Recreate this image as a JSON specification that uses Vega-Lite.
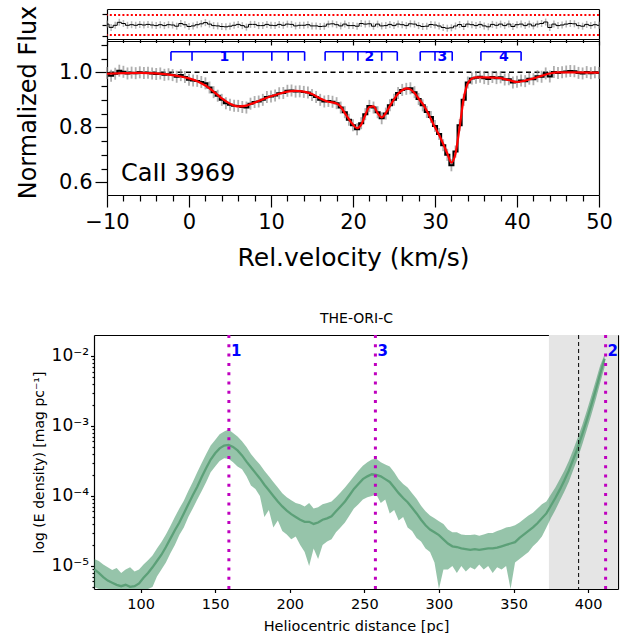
{
"$schema":"https://vega.github.io/schema/vega-lite/v6.json",
"padding":{"left":16,"top":5,"right":0,"bottom":0},
"config":{"font":"DejaVu Sans","view":{"stroke":null},
"axis":{"grid":false,"domainColor":"#000","tickColor":"#000","labelColor":"#000","titleColor":"#000","labelFont":"DejaVu Sans","titleFont":"DejaVu Sans","titleFontWeight":"normal","labelFlush":false,"labelOverlap":false,"domainWidth":1.2,"tickWidth":1.2},
"title":{"font":"DejaVu Sans","fontWeight":"normal","color":"#000"}},
"datasets":{
"spec":[
{"v":-10,"f":0.998,"r":0.09},{"v":-9.5,"f":0.988,"r":-0.24},{"v":-9,"f":0.995,"r":-0.03},{"v":-8.5,"f":1.006,"r":0.27},{"v":-8,"f":1.002,"r":0.15},{"v":-7.5,"f":0.996,"r":-0.03},{"v":-7,"f":0.999,"r":0.03},{"v":-6.5,"f":0.997,"r":-0.03},{"v":-6,"f":1.0,"r":0.06},{"v":-5.5,"f":0.998,"r":0},{"v":-5,"f":0.999,"r":0.06},{"v":-4.5,"f":0.996,"r":0},{"v":-4,"f":0.994,"r":-0.06},{"v":-3.5,"f":0.996,"r":0.03},{"v":-3,"f":0.991,"r":-0.06},{"v":-2.5,"f":0.993,"r":0.03},{"v":-2,"f":0.99,"r":0},{"v":-1.5,"f":0.984,"r":-0.12},{"v":-1,"f":0.99,"r":0.15},{"v":-0.5,"f":0.983,"r":0.03},
{"v":0,"f":0.973,"r":-0.15},{"v":0.5,"f":0.97,"r":-0.09},{"v":1,"f":0.969,"r":0.03},{"v":1.5,"f":0.965,"r":0.12},{"v":2,"f":0.96,"r":0.24},{"v":2.5,"f":0.945,"r":0.09},{"v":3,"f":0.928,"r":-0.06},{"v":3.5,"f":0.915,"r":-0.09},{"v":4,"f":0.9,"r":-0.15},{"v":4.5,"f":0.888,"r":-0.18},{"v":5,"f":0.882,"r":-0.12},{"v":5.5,"f":0.879,"r":-0.03},{"v":6,"f":0.878,"r":0.06},{"v":6.5,"f":0.874,"r":-0.06},{"v":7,"f":0.872,"r":-0.21},{"v":7.5,"f":0.886,"r":0.06},{"v":8,"f":0.892,"r":0.06},{"v":8.5,"f":0.894,"r":-0.06},{"v":9,"f":0.9,"r":-0.06},{"v":9.5,"f":0.91,"r":0.06},
{"v":10,"f":0.912,"r":-0.03},{"v":10.5,"f":0.916,"r":-0.06},{"v":11,"f":0.924,"r":0.06},{"v":11.5,"f":0.925,"r":-0.03},{"v":12,"f":0.933,"r":0.09},{"v":12.5,"f":0.934,"r":0.06},{"v":13,"f":0.93,"r":-0.09},{"v":13.5,"f":0.931,"r":-0.03},{"v":14,"f":0.929,"r":-0.03},{"v":14.5,"f":0.927,"r":0.03},{"v":15,"f":0.918,"r":-0.09},{"v":15.5,"f":0.91,"r":-0.09},{"v":16,"f":0.9,"r":-0.15},{"v":16.5,"f":0.894,"r":-0.12},{"v":17,"f":0.896,"r":0.09},{"v":17.5,"f":0.893,"r":0.12},{"v":18,"f":0.888,"r":0.03},{"v":18.5,"f":0.872,"r":-0.09},{"v":19,"f":0.855,"r":0.09},{"v":19.5,"f":0.828,"r":-0.06},
{"v":20,"f":0.808,"r":-0.06},{"v":20.5,"f":0.793,"r":-0.12},{"v":21,"f":0.815,"r":0.15},{"v":21.5,"f":0.848,"r":0.09},{"v":22,"f":0.878,"r":0.12},{"v":22.5,"f":0.872,"r":-0.12},{"v":23,"f":0.855,"r":0.09},{"v":23.5,"f":0.833,"r":-0.09},{"v":24,"f":0.85,"r":-0.06},{"v":24.5,"f":0.88,"r":0.06},{"v":25,"f":0.9,"r":-0.06},{"v":25.5,"f":0.925,"r":0.09},{"v":26,"f":0.936,"r":0.03},{"v":26.5,"f":0.94,"r":-0.06},{"v":27,"f":0.942,"r":0.12},{"v":27.5,"f":0.928,"r":0.09},{"v":28,"f":0.903,"r":-0.06},{"v":28.5,"f":0.88,"r":-0.15},{"v":29,"f":0.856,"r":-0.12},{"v":29.5,"f":0.838,"r":0.05},
{"v":30,"f":0.805,"r":0},{"v":30.5,"f":0.776,"r":-0.1},{"v":31,"f":0.735,"r":-0.25},{"v":31.5,"f":0.7,"r":-0.32},{"v":32,"f":0.662,"r":-0.28},{"v":32.5,"f":0.712,"r":-0.1},{"v":33,"f":0.808,"r":0.05},{"v":33.5,"f":0.9,"r":-0.15},{"v":34,"f":0.963,"r":0.09},{"v":34.5,"f":0.978,"r":0.03},{"v":35,"f":0.98,"r":-0.06},{"v":35.5,"f":0.984,"r":0.06},{"v":36,"f":0.979,"r":-0.09},{"v":36.5,"f":0.976,"r":-0.18},{"v":37,"f":0.983,"r":0.06},{"v":37.5,"f":0.979,"r":-0.03},{"v":38,"f":0.982,"r":0.09},{"v":38.5,"f":0.974,"r":-0.06},{"v":39,"f":0.975,"r":0.09},{"v":39.5,"f":0.963,"r":-0.15},
{"v":40,"f":0.966,"r":0.03},{"v":40.5,"f":0.97,"r":0.09},{"v":41,"f":0.968,"r":-0.06},{"v":41.5,"f":0.977,"r":0.09},{"v":42,"f":0.975,"r":-0.09},{"v":42.5,"f":0.986,"r":0.09},{"v":43,"f":0.984,"r":0.15},{"v":43.5,"f":0.996,"r":0.3},{"v":44,"f":0.985,"r":-0.25},{"v":44.5,"f":1.001,"r":0.09},{"v":45,"f":0.998,"r":-0.06},{"v":45.5,"f":1.0,"r":0},{"v":46,"f":1.003,"r":0.09},{"v":46.5,"f":1.005,"r":0.15},{"v":47,"f":1.004,"r":0.12},{"v":47.5,"f":0.998,"r":-0.06},{"v":48,"f":0.996,"r":-0.12},{"v":48.5,"f":1.001,"r":0.06},{"v":49,"f":0.997,"r":-0.06},{"v":49.5,"f":1.0,"r":0.03},{"v":50,"f":0.998,"r":-0.03}
],
"fit":[
{"v":-10,"m":0.995},{"v":-8,"m":0.997},{"v":-6,"m":0.998},{"v":-4,"m":0.996},{"v":-2,"m":0.99},{"v":-1,"m":0.985},{"v":0,"m":0.978},{"v":1,"m":0.968},{"v":2,"m":0.952},{"v":3,"m":0.93},{"v":4,"m":0.905},{"v":5,"m":0.886},{"v":6,"m":0.876},{"v":7,"m":0.879},{"v":8,"m":0.89},{"v":9,"m":0.902},{"v":10,"m":0.913},{"v":11,"m":0.922},{"v":12,"m":0.93},{"v":13,"m":0.933},{"v":14,"m":0.93},{"v":15,"m":0.921},{"v":16,"m":0.905},{"v":17,"m":0.893},{"v":18,"m":0.887},{"v":18.5,"m":0.875},{"v":19,"m":0.852},{"v":19.5,"m":0.83},{"v":20,"m":0.81},{"v":20.5,"m":0.797},{"v":21,"m":0.81},{"v":21.5,"m":0.845},{"v":22,"m":0.874},{"v":22.5,"m":0.876},{"v":23,"m":0.852},{"v":23.5,"m":0.836},{"v":24,"m":0.852},{"v":24.5,"m":0.878},{"v":25,"m":0.902},{"v":25.5,"m":0.922},{"v":26,"m":0.935},{"v":26.5,"m":0.942},{"v":27,"m":0.938},{"v":27.5,"m":0.925},{"v":28,"m":0.905},{"v":28.5,"m":0.885},{"v":29,"m":0.86},{"v":29.5,"m":0.83},{"v":30,"m":0.8},{"v":30.5,"m":0.772},{"v":31,"m":0.74},{"v":31.5,"m":0.705},{"v":32,"m":0.672},{"v":32.5,"m":0.705},{"v":33,"m":0.8},{"v":33.5,"m":0.905},{"v":34,"m":0.96},{"v":34.5,"m":0.977},{"v":35,"m":0.982},{"v":36,"m":0.982},{"v":37,"m":0.981},{"v":38,"m":0.979},{"v":39,"m":0.972},{"v":40,"m":0.965},{"v":41,"m":0.97},{"v":42,"m":0.978},{"v":43,"m":0.987},{"v":44,"m":0.996},{"v":45,"m":1.0},{"v":47,"m":1.0},{"v":50,"m":0.999}
],
"brk":[{"c":"1","x1":-2.2,"x2":14.1,"lx":4.3},{"c":"2","x1":16.6,"x2":25.4,"lx":22.0},{"c":"3","x1":28.2,"x2":32.1,"lx":30.9},{"c":"4","x1":35.6,"x2":40.5,"lx":38.4}],
"brt":[{"x":-2.2},{"x":0.37},{"x":6.6},{"x":10.1},{"x":12.1},{"x":14.1},{"x":16.6},{"x":18.8},{"x":20.6},{"x":23.5},{"x":25.4},{"x":28.2},{"x":30.0},{"x":32.1},{"x":35.6},{"x":40.5}],
"comp":[{"n":"1","d":159.2},{"n":"3","d":257.4},{"n":"2","d":411.7}],
"ext":[
{"d":69,"mid":-5.05,"hi":-4.9,"lo":-5.3},{"d":72,"mid":-5.1,"hi":-4.93,"lo":-5.36},{"d":75,"mid":-5.16,"hi":-4.98,"lo":-5.4},{"d":78,"mid":-5.21,"hi":-5.02,"lo":-5.45},{"d":81,"mid":-5.24,"hi":-5.06,"lo":-5.4},{"d":84,"mid":-5.27,"hi":-5.03,"lo":-5.5},{"d":87,"mid":-5.29,"hi":-5.1,"lo":-5.5},{"d":90,"mid":-5.27,"hi":-5.05,"lo":-5.45},{"d":93,"mid":-5.3,"hi":-5.02,"lo":-5.55},{"d":96,"mid":-5.29,"hi":-5.08,"lo":-5.5},{"d":99,"mid":-5.25,"hi":-5.05,"lo":-5.45},{"d":102,"mid":-5.17,"hi":-4.98,"lo":-5.4},{"d":105,"mid":-5.1,"hi":-4.92,"lo":-5.35},{"d":108,"mid":-5.02,"hi":-4.85,"lo":-5.3},{"d":111,"mid":-4.93,"hi":-4.75,"lo":-5.15},{"d":114,"mid":-4.84,"hi":-4.66,"lo":-5.05},{"d":117,"mid":-4.73,"hi":-4.55,"lo":-4.95},{"d":120,"mid":-4.61,"hi":-4.43,"lo":-4.82},{"d":123,"mid":-4.49,"hi":-4.3,"lo":-4.7},{"d":126,"mid":-4.38,"hi":-4.18,"lo":-4.56},{"d":129,"mid":-4.25,"hi":-4.07,"lo":-4.45},{"d":132,"mid":-4.12,"hi":-3.93,"lo":-4.3},{"d":135,"mid":-3.99,"hi":-3.8,"lo":-4.18},{"d":138,"mid":-3.87,"hi":-3.66,"lo":-4.05},{"d":141,"mid":-3.73,"hi":-3.53,"lo":-3.93},{"d":144,"mid":-3.6,"hi":-3.4,"lo":-3.8},{"d":147,"mid":-3.48,"hi":-3.28,"lo":-3.66},{"d":150,"mid":-3.39,"hi":-3.2,"lo":-3.58},{"d":153,"mid":-3.32,"hi":-3.12,"lo":-3.5},{"d":156,"mid":-3.28,"hi":-3.08,"lo":-3.46},{"d":159,"mid":-3.27,"hi":-3.05,"lo":-3.47},{"d":162,"mid":-3.3,"hi":-3.1,"lo":-3.52},{"d":165,"mid":-3.35,"hi":-3.15,"lo":-3.58},{"d":168,"mid":-3.42,"hi":-3.22,"lo":-3.62},{"d":171,"mid":-3.51,"hi":-3.3,"lo":-3.72},{"d":174,"mid":-3.59,"hi":-3.4,"lo":-3.85},{"d":177,"mid":-3.67,"hi":-3.48,"lo":-3.9},{"d":180,"mid":-3.75,"hi":-3.55,"lo":-4.0},{"d":183,"mid":-3.84,"hi":-3.64,"lo":-4.3},{"d":186,"mid":-3.92,"hi":-3.72,"lo":-4.2},{"d":189,"mid":-4.0,"hi":-3.8,"lo":-4.45},{"d":192,"mid":-4.08,"hi":-3.88,"lo":-4.35},{"d":195,"mid":-4.15,"hi":-3.96,"lo":-4.5},{"d":198,"mid":-4.21,"hi":-4.02,"lo":-4.55},{"d":201,"mid":-4.26,"hi":-4.06,"lo":-4.62},{"d":204,"mid":-4.3,"hi":-4.1,"lo":-4.58},{"d":207,"mid":-4.34,"hi":-4.12,"lo":-4.7},{"d":210,"mid":-4.37,"hi":-4.15,"lo":-4.8},{"d":213,"mid":-4.37,"hi":-4.1,"lo":-5.0},{"d":216,"mid":-4.4,"hi":-4.18,"lo":-4.75},{"d":219,"mid":-4.38,"hi":-4.16,"lo":-4.9},{"d":222,"mid":-4.34,"hi":-4.12,"lo":-4.7},{"d":225,"mid":-4.32,"hi":-4.1,"lo":-4.65},{"d":228,"mid":-4.29,"hi":-4.08,"lo":-4.62},{"d":231,"mid":-4.22,"hi":-4.02,"lo":-4.52},{"d":234,"mid":-4.15,"hi":-3.95,"lo":-4.45},{"d":237,"mid":-4.08,"hi":-3.88,"lo":-4.38},{"d":240,"mid":-3.99,"hi":-3.8,"lo":-4.28},{"d":243,"mid":-3.9,"hi":-3.72,"lo":-4.18},{"d":246,"mid":-3.83,"hi":-3.64,"lo":-4.12},{"d":249,"mid":-3.76,"hi":-3.57,"lo":-4.05},{"d":252,"mid":-3.72,"hi":-3.52,"lo":-4.02},{"d":255,"mid":-3.69,"hi":-3.48,"lo":-4.0},{"d":258,"mid":-3.7,"hi":-3.47,"lo":-3.98},{"d":261,"mid":-3.72,"hi":-3.52,"lo":-4.1},{"d":264,"mid":-3.76,"hi":-3.55,"lo":-4.05},{"d":267,"mid":-3.8,"hi":-3.58,"lo":-4.25},{"d":270,"mid":-3.88,"hi":-3.66,"lo":-4.2},{"d":273,"mid":-3.96,"hi":-3.76,"lo":-4.35},{"d":276,"mid":-4.03,"hi":-3.83,"lo":-4.3},{"d":279,"mid":-4.09,"hi":-3.88,"lo":-4.45},{"d":282,"mid":-4.17,"hi":-3.96,"lo":-4.5},{"d":285,"mid":-4.25,"hi":-4.04,"lo":-4.6},{"d":288,"mid":-4.34,"hi":-4.14,"lo":-4.65},{"d":291,"mid":-4.42,"hi":-4.22,"lo":-4.75},{"d":294,"mid":-4.48,"hi":-4.28,"lo":-4.8},{"d":297,"mid":-4.52,"hi":-4.32,"lo":-4.95},{"d":300,"mid":-4.56,"hi":-4.36,"lo":-5.4},{"d":303,"mid":-4.62,"hi":-4.4,"lo":-5.05},{"d":306,"mid":-4.68,"hi":-4.48,"lo":-5.05},{"d":309,"mid":-4.72,"hi":-4.52,"lo":-5.0},{"d":312,"mid":-4.73,"hi":-4.52,"lo":-5.1},{"d":315,"mid":-4.75,"hi":-4.55,"lo":-5.0},{"d":318,"mid":-4.76,"hi":-4.56,"lo":-5.08},{"d":321,"mid":-4.77,"hi":-4.56,"lo":-5.02},{"d":324,"mid":-4.76,"hi":-4.55,"lo":-5.05},{"d":327,"mid":-4.77,"hi":-4.57,"lo":-4.98},{"d":330,"mid":-4.76,"hi":-4.55,"lo":-5.05},{"d":333,"mid":-4.75,"hi":-4.53,"lo":-5.0},{"d":336,"mid":-4.75,"hi":-4.53,"lo":-5.1},{"d":339,"mid":-4.74,"hi":-4.5,"lo":-5.02},{"d":342,"mid":-4.72,"hi":-4.48,"lo":-5.05},{"d":345,"mid":-4.7,"hi":-4.45,"lo":-5.0},{"d":348,"mid":-4.68,"hi":-4.44,"lo":-5.4},{"d":351,"mid":-4.66,"hi":-4.42,"lo":-4.95},{"d":354,"mid":-4.6,"hi":-4.38,"lo":-4.9},{"d":357,"mid":-4.55,"hi":-4.33,"lo":-4.85},{"d":360,"mid":-4.5,"hi":-4.28,"lo":-4.8},{"d":363,"mid":-4.45,"hi":-4.24,"lo":-4.72},{"d":366,"mid":-4.39,"hi":-4.18,"lo":-4.66},{"d":369,"mid":-4.32,"hi":-4.12,"lo":-4.58},{"d":372,"mid":-4.25,"hi":-4.08,"lo":-4.45},{"d":375,"mid":-4.14,"hi":-3.98,"lo":-4.32},{"d":378,"mid":-4.03,"hi":-3.88,"lo":-4.2},{"d":381,"mid":-3.91,"hi":-3.76,"lo":-4.07},{"d":384,"mid":-3.78,"hi":-3.64,"lo":-3.94},{"d":387,"mid":-3.64,"hi":-3.5,"lo":-3.8},{"d":390,"mid":-3.48,"hi":-3.34,"lo":-3.63},{"d":393,"mid":-3.31,"hi":-3.17,"lo":-3.46},{"d":396,"mid":-3.12,"hi":-2.99,"lo":-3.27},{"d":399,"mid":-2.92,"hi":-2.79,"lo":-3.06},{"d":402,"mid":-2.71,"hi":-2.58,"lo":-2.85},{"d":405,"mid":-2.49,"hi":-2.36,"lo":-2.63},{"d":408,"mid":-2.26,"hi":-2.14,"lo":-2.39},{"d":411,"mid":-2.04,"hi":-1.98,"lo":-2.16}
]
},
"vconcat":[
{
"width":492,"height":186,
"layer":[
{
"layer":[
{"data":{"values":[{}]},"mark":{"type":"rule","color":"#000","strokeDash":[5,3.5],"strokeWidth":1.5},"encoding":{"y":{"datum":1.0,"axis":null}}},
{"data":{"name":"spec"},"mark":{"type":"tick","orient":"vertical","color":"#8c8c8c","size":12,"thickness":1.8},
"encoding":{
"x":{"field":"v","type":"quantitative","scale":{"domain":[-10,50],"nice":false,"zero":false},
"axis":{"orient":"bottom","values":[-10,-8,-6,-4,-2,0,2,4,6,8,10,12,14,16,18,20,22,24,26,28,30,32,34,36,38,40,42,44,46,48,50],"tickSize":{"condition":{"test":"datum.value % 10 === 0","value":12},"value":6},"labelExpr":"datum.value % 10 === 0 ? datum.label : ''","labelFontSize":21,"labelPadding":4,"title":"Rel.velocity (km/s)","titleFontSize":25,"titlePadding":13,"domain":true}},
"y":{"field":"f","type":"quantitative","scale":{"domain":[0.554,1.114],"range":[186,32],"nice":false,"zero":false},
"axis":{"orient":"left","values":[0.6,0.65,0.7,0.75,0.8,0.85,0.9,0.95,1.0,1.05,1.1],"format":".1f","tickSize":{"condition":{"test":"abs(datum.value*5 - round(datum.value*5)) < 0.001","value":12},"value":6},"labelExpr":"abs(datum.value*5 - round(datum.value*5)) < 0.001 ? datum.label : ''","labelFontSize":21,"labelPadding":3,"title":"Normalized Flux","titleFontSize":24,"titlePadding":18,"titleY":93,"domain":true}}}},
{"data":{"name":"spec"},"mark":{"type":"line","interpolate":"step","color":"#000","strokeWidth":2},
"encoding":{
"x":{"field":"v","type":"quantitative","axis":{"orient":"top","offset":-32,"ticks":false,"labels":false,"title":null,"domain":true}},
"y":{"field":"f","type":"quantitative","axis":{"orient":"right","ticks":false,"labels":false,"title":null,"domain":true}}}},
{"data":{"name":"fit"},"mark":{"type":"line","interpolate":"monotone","color":"#ff0000","strokeWidth":2.2},
"encoding":{"x":{"field":"v","type":"quantitative","axis":null},"y":{"field":"m","type":"quantitative","axis":null}}},
{"data":{"name":"brk"},"mark":{"type":"rule","color":"#0000ff","strokeWidth":1.6},
"encoding":{"x":{"field":"x1","type":"quantitative","axis":null},"x2":{"field":"x2"},"y":{"datum":1.075,"axis":null}}},
{"data":{"name":"brt"},"mark":{"type":"rule","color":"#0000ff","strokeWidth":1.6},
"encoding":{"x":{"field":"x","type":"quantitative","axis":null},"y":{"datum":1.042,"axis":null},"y2":{"datum":1.075}}},
{"data":{"name":"brk"},"mark":{"type":"text","color":"#0000ff","fontWeight":"bold","fontSize":14,"baseline":"middle","align":"center"},
"encoding":{"x":{"field":"lx","type":"quantitative","axis":null},"y":{"datum":1.055,"axis":null},"text":{"field":"c"}}},
{"data":{"values":[{}]},"mark":{"type":"text","text":"CaII 3969","fontSize":24,"align":"left","baseline":"middle","color":"#000"},
"encoding":{"x":{"datum":-8.3,"axis":null},"y":{"datum":0.63,"axis":null}}}
],
"resolve":{"axis":{"x":"independent","y":"independent"}}
},
{
"layer":[
{"data":{"values":[{"y":1},{"y":-1}]},"mark":{"type":"rule","color":"#ff0000","strokeDash":[2,2.2],"strokeWidth":2},
"encoding":{"y":{"field":"y","type":"quantitative","axis":null}}},
{"data":{"name":"spec"},"mark":{"type":"tick","orient":"vertical","color":"#999999","size":7,"thickness":1.5},
"encoding":{
"x":{"field":"v","type":"quantitative","scale":{"domain":[-10,50],"nice":false,"zero":false},
"axis":{"orient":"bottom","offset":-156,"values":[-10,-8,-6,-4,-2,0,2,4,6,8,10,12,14,16,18,20,22,24,26,28,30,32,34,36,38,40,42,44,46,48,50],"tickSize":{"condition":{"test":"datum.value % 10 === 0","value":6},"value":3.5},"labels":false,"title":null,"domain":true}},
"y":{"field":"r","type":"quantitative","scale":{"domain":[-1.4,1.6],"range":[30,0],"nice":false,"zero":false},
"axis":{"orient":"left","values":[-1.1,0,1.1],"tickSize":5,"labels":false,"title":null,"domain":true}}}},
{"data":{"name":"spec"},"mark":{"type":"line","interpolate":"step","color":"#000","strokeWidth":1},
"encoding":{
"x":{"field":"v","type":"quantitative","axis":{"orient":"top","ticks":false,"labels":false,"title":null,"domain":true}},
"y":{"field":"r","type":"quantitative","axis":{"orient":"right","ticks":false,"labels":false,"title":null,"domain":true}}}}
],
"resolve":{"axis":{"x":"independent","y":"independent"}}
}
],
"resolve":{"scale":{"y":"independent"},"axis":{"x":"independent","y":"independent"}}
},
{
"width":511,"height":254,
"view":{"stroke":null},
"title":{"text":"THE-ORI-C","fontSize":14,"fontWeight":"normal","color":"#000","offset":8,"dx":-6},
"layer":[
{"data":{"values":[{"a":373.7,"b":420}]},"mark":{"type":"rect","color":"#e5e5e5"},
"encoding":{"x":{"field":"a","type":"quantitative","axis":null},"x2":{"field":"b"}}},
{"data":{"name":"ext"},"mark":{"type":"area","color":"#2d8955","opacity":0.5},
"encoding":{
"x":{"field":"d","type":"quantitative","scale":{"domain":[68.8,420],"range":[-13,511],"nice":false,"zero":false},
"axis":{"orient":"bottom","values":[100,150,200,250,300,350,400],"tickSize":3.5,"labelFontSize":14.5,"labelPadding":5,"title":"Heliocentric distance [pc]","titleFontSize":14.5,"titlePadding":8,"domain":true}},
"y":{"field":"lo","type":"quantitative","scale":{"domain":[-5.33,-1.7],"nice":false,"zero":false,"clamp":true},
"axis":{"orient":"left","offset":13,"values":[-5.301,-5.222,-5.155,-5.097,-5.046,-5,-4.699,-4.523,-4.398,-4.301,-4.222,-4.155,-4.097,-4.046,-4,-3.699,-3.523,-3.398,-3.301,-3.222,-3.155,-3.097,-3.046,-3,-2.699,-2.523,-2.398,-2.301,-2.222,-2.155,-2.097,-2.046,-2],"tickSize":{"condition":{"test":"datum.value === round(datum.value)","value":3.5},"value":2},"labelExpr":"datum.value === -2 ? '10⁻²' : datum.value === -3 ? '10⁻³' : datum.value === -4 ? '10⁻⁴' : datum.value === -5 ? '10⁻⁵' : ''","labelFontSize":17,"labelPadding":2,"title":"log (E density) [mag pc⁻¹]","titleFontSize":14,"titlePadding":5,"domain":true}},
"y2":{"field":"hi"}}},
{"data":{"name":"ext"},"mark":{"type":"line","color":"#5ca078","strokeWidth":2.3},
"encoding":{
"x":{"field":"d","type":"quantitative","axis":{"orient":"top","ticks":false,"labels":false,"title":null,"domain":true}},
"y":{"field":"mid","type":"quantitative","axis":{"orient":"right","ticks":false,"labels":false,"title":null,"domain":true}}}},
{"data":{"name":"comp"},"mark":{"type":"rule","color":"#bf00bf","strokeWidth":3,"strokeDash":[3,6.3]},
"encoding":{"x":{"field":"d","type":"quantitative","axis":null}}},
{"data":{"values":[{}]},"mark":{"type":"rule","color":"#000","strokeWidth":1,"strokeDash":[4,3]},
"encoding":{"x":{"datum":393.6,"axis":null}}},
{"data":{"name":"comp"},"mark":{"type":"text","color":"#0000ff","fontWeight":"bold","fontSize":15,"align":"left","baseline":"middle","dx":2},
"encoding":{"x":{"field":"d","type":"quantitative","axis":null},"y":{"datum":-1.93,"axis":null},"text":{"field":"n"}}}
],
"resolve":{"axis":{"x":"independent","y":"independent"}}
}
],
"spacing":41
}
